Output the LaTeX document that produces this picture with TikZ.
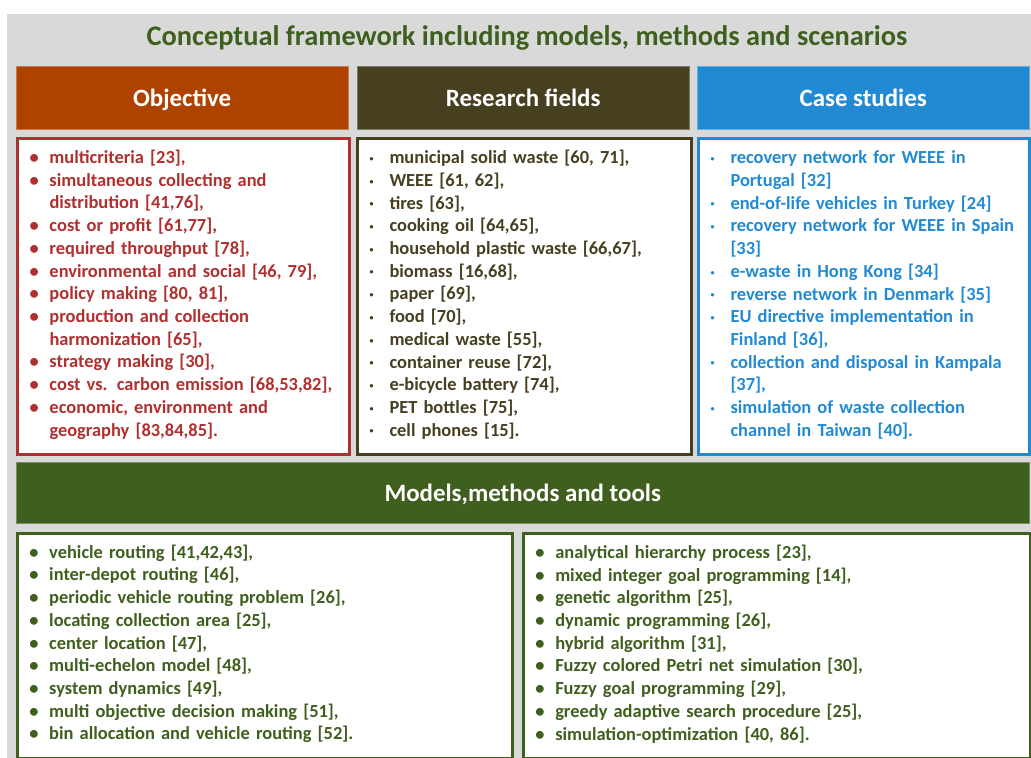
\documentclass[tikz,border=0pt]{standalone}
\usepackage{fontspec}
\setmainfont{Carlito}
\usetikzlibrary{positioning}

\definecolor{bggray}{HTML}{D9D9D9}
\definecolor{modgreen}{HTML}{3F5F1E}
\definecolor{objorange}{HTML}{AE4300}
\definecolor{objred}{HTML}{B0302F}
\definecolor{resbrown}{HTML}{463F20}
\definecolor{caseblue}{HTML}{228AD3}

\newcommand\bul{\textbullet}
% one line of a list: bullet + text, or an indented continuation line
\newcommand\itm[1]{\par\noindent\makebox[20bp][l]{\bul}\mbox{#1}}
\newcommand\cnt[1]{\par\noindent\hspace*{20bp}\mbox{#1}}
\newcommand\listend{\par\vspace*{13bp}}

\begin{document}
\begin{tikzpicture}[
  x=1bp, y=-1bp,
  head/.style 2 args = {
    draw=#1!70!white, fill=#1, text=white,
    anchor=north west, inner sep=0pt,
    minimum width=#2, minimum height=63bp,
    text height=19bp, text depth=2bp,
    font=\fontsize{25}{30}\selectfont\bfseries
  },
  listbox/.style 2 args = {
    draw=#1, line width=3bp, fill=white, text=#1,
    anchor=north west, align=left,
    inner xsep=12bp, inner ysep=0pt,
    text width=#2,
    font=\fontsize{18.5}{22.8}\selectfont\bfseries,
    execute at end node=\listend
  },
  small dots/.style = {execute at begin node=\def\bul{\raisebox{0.25ex}{\footnotesize\textbullet}}}
]

% ---- canvas ----
\useasboundingbox (0,0) rectangle (1031,758);
\node[fill=bggray, anchor=north west, inner sep=0pt,
  minimum width=1024bp, minimum height=744bp] (frame) at (7,14) {};

\node[text=modgreen, font=\fontsize{28.5}{34}\selectfont\bfseries] (title)
  at (527,38) {Conceptual framework including models, methods and scenarios};

% ---- headers ----
\node[head={objorange}{332bp}] (hobj)  at (16,66)  {Objective};
\node[head={resbrown}{332bp}]  (hres)  at (357,66) {Research fields};
\node[head={caseblue}{332bp}]  (hcase) at (697,66) {Case studies};

% ---- lists ----
\node[listbox={objred}{308bp}, minimum height=316bp] (bobj) at (16,137) {
  \itm{multicriteria [23],}
  \itm{simultaneous collecting and}
  \cnt{distribution [41,76],}
  \itm{cost or profit [61,77],}
  \itm{required throughput [78],}
  \itm{environmental and social [46, 79],}
  \itm{policy making [80, 81],}
  \itm{production and collection}
  \cnt{harmonization [65],}
  \itm{strategy making [30],}
  \itm{cost vs. carbon emission [68,53,82],}
  \itm{economic, environment and}
  \cnt{geography [83,84,85].}
};

\node[listbox={resbrown}{310bp}, small dots, minimum height=316bp] (bres) at (356,137) {
  \itm{municipal solid waste [60, 71],}
  \itm{WEEE [61, 62],}
  \itm{tires [63],}
  \itm{cooking oil [64,65],}
  \itm{household plastic waste [66,67],}
  \itm{biomass [16,68],}
  \itm{paper [69],}
  \itm{food [70],}
  \itm{medical waste [55],}
  \itm{container reuse [72],}
  \itm{e-bicycle battery [74],}
  \itm{PET bottles [75],}
  \itm{cell phones [15].}
};

\node[listbox={caseblue}{307bp}, small dots, minimum height=316bp] (bcase) at (697,137) {
  \itm{recovery network for WEEE in}
  \cnt{Portugal [32]}
  \itm{end-of-life vehicles in Turkey [24]}
  \itm{recovery network for WEEE in Spain}
  \cnt{[33]}
  \itm{e-waste in Hong Kong [34]}
  \itm{reverse network in Denmark [35]}
  \itm{EU directive implementation in}
  \cnt{Finland [36],}
  \itm{collection and disposal in Kampala}
  \cnt{[37],}
  \itm{simulation of waste collection}
  \cnt{channel in Taiwan [40].}
};

% ---- models, methods and tools ----
\node[head={modgreen}{1013bp}, minimum height=61bp] (hmod) at (16,462) {Models,methods and tools};

\node[listbox={modgreen}{471bp}, line width=2.5bp, minimum height=225bp] (bmodl) at (16,532) {
  \itm{vehicle routing [41,42,43],}
  \itm{inter-depot routing [46],}
  \itm{periodic vehicle routing problem [26],}
  \itm{locating collection area [25],}
  \itm{center location [47],}
  \itm{multi-echelon model [48],}
  \itm{system dynamics [49],}
  \itm{multi objective decision making [51],}
  \itm{bin allocation and vehicle routing [52].}
};

\node[listbox={modgreen}{483bp}, line width=2.5bp, minimum height=225bp] (bmodr) at (522,532) {
  \itm{analytical hierarchy process [23],}
  \itm{mixed integer goal programming [14],}
  \itm{genetic algorithm [25],}
  \itm{dynamic programming [26],}
  \itm{hybrid algorithm [31],}
  \itm{Fuzzy colored Petri net simulation [30],}
  \itm{Fuzzy goal programming [29],}
  \itm{greedy adaptive search procedure [25],}
  \itm{simulation-optimization [40, 86].}
};

\end{tikzpicture}
\end{document}
